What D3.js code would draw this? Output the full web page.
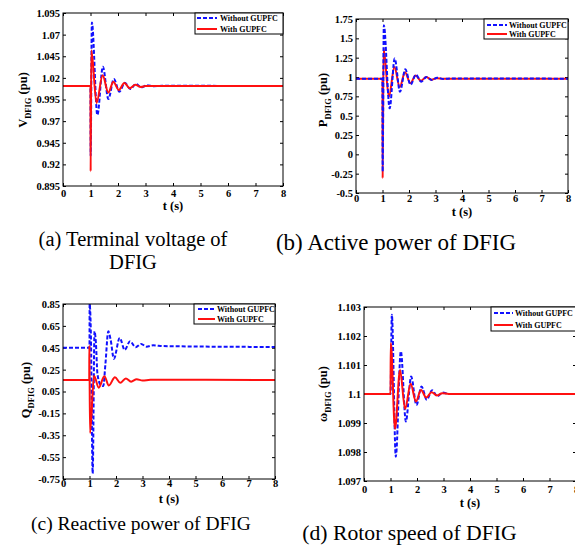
<!DOCTYPE html>
<html><head><meta charset="utf-8">
<script src="https://cdn.jsdelivr.net/npm/d3@7"></script>
<style>body{margin:0;background:#fff}svg{display:block}</style>
</head><body>
<svg id="c" width="575" height="557"></svg>
<script>
// ---------- data ----------
const timeTicks = [0,1,2,3,4,5,6,7,8];
const vTicks = [0.895,0.92,0.945,0.97,0.995,1.02,1.045,1.07,1.095];
const pTicks = [-0.5,-0.25,0,0.25,0.5,0.75,1,1.25,1.5,1.75];
const qTicks = [-0.75,-0.55,-0.35,-0.15,0.05,0.25,0.45,0.65,0.85];
const wTicks = [1.097,1.098,1.099,1.1,1.101,1.102,1.103];
const seriesNames = ["Without GUPFC","With GUPFC"];
const captions = ["(a) Terminal voltage of|DFIG","(b) Active power of DFIG","(c) Reactive power of DFIG","(d) Rotor speed of DFIG"];

// (a) terminal voltage [t, pu]
const vWithout = [[0,1.0106],[1.0,1.0106],[1.005,0.93],[1.05,1.084],[1.25,0.977],[1.45,1.033],[1.65,0.9956],[1.85,1.0187],[2.05,1.004],[2.25,1.0144],[2.45,1.007],[2.65,1.013],[2.85,1.009],[3.05,1.0115],[3.3,1.0103],[3.6,1.0108],[8,1.0106]];
const vWith = [[0,1.0106],[1.0,1.0106],[1.005,0.912],[1.03,1.052],[1.22,0.991],[1.44,1.023],[1.65,1.003],[1.83,1.0156],[2.03,1.006],[2.23,1.014],[2.43,1.008],[2.63,1.012],[2.83,1.0095],[3.0,1.0106],[8,1.0106]];
// (b) active power
const pWithout = [[0,0.978],[1.0,0.978],[1.005,-0.225],[1.05,1.67],[1.27,0.595],[1.46,1.24],[1.66,0.81],[1.86,1.1],[2.06,0.9],[2.26,1.03],[2.46,0.94],[2.66,1.0],[2.86,0.96],[3.06,0.99],[3.3,0.975],[3.6,0.982],[8,0.978]];
const pWith = [[0,0.978],[1.0,0.978],[1.005,-0.31],[1.04,1.37],[1.24,0.745],[1.45,1.13],[1.65,0.87],[1.85,1.06],[2.05,0.92],[2.25,1.02],[2.45,0.95],[2.65,1.0],[2.85,0.965],[3.05,0.985],[3.3,0.978],[8,0.978]];
// (c) reactive power
const qWithout = [[0,0.45],[1.0,0.45],[1.005,0.85],[1.05,0.6],[1.12,-0.7],[1.19,0.6],[1.24,0.5],[1.3,0.21],[1.42,0.11],[1.52,0.1],[1.6,0.3],[1.71,0.6],[1.8,0.52],[1.92,0.35],[2.14,0.54],[2.33,0.43],[2.53,0.51],[2.74,0.455],[2.95,0.485],[3.15,0.46],[3.4,0.472],[3.8,0.465],[8,0.457]];
const qWith = [[0,0.155],[0.99,0.155],[0.995,0.47],[1.02,-0.33],[1.17,0.195],[1.35,0.085],[1.56,0.19],[1.73,0.105],[1.96,0.18],[2.16,0.13],[2.37,0.17],[2.57,0.14],[2.78,0.162],[3.0,0.15],[3.3,0.157],[8,0.155]];
// (d) rotor speed
const wWithout = [[0,1.1],[1.0,1.1],[1.05,1.10273],[1.2,1.09784],[1.39,1.10147],[1.58,1.09905],[1.78,1.1006],[1.98,1.09962],[2.17,1.10026],[2.37,1.0998],[2.57,1.10013],[2.77,1.09992],[2.97,1.10005],[3.2,1.1],[8,1.1]];
const wWith = [[0,1.1],[1.0,1.1],[1.01,1.10176],[1.17,1.0988],[1.36,1.10083],[1.55,1.09948],[1.76,1.10035],[1.96,1.09974],[2.15,1.10014],[2.35,1.09988],[2.55,1.10006],[2.75,1.09995],[2.95,1.10003],[3.2,1.1],[8,1.1]];

// ---------- layout ----------
const svg = d3.select("#c");
const SERIF = "'Liberation Serif','Times New Roman',serif";
const panels = [
  {id:"a", x0:63, x1:283, y0:13, y1:186, dom:[0.895,1.095], ticks:vTicks, s:[vWithout,vWith], sym:"V",
   labX:27, labY:100, tickPad:4, xlabY:209.5, leg:{x0:195,x1:283,y0:13,y1:34,r:[18,29],l0:197,l1:217,t:220}, redTop:true},
  {id:"b", x0:356, x1:568, y0:19, y1:193, dom:[-0.5,1.75], ticks:pTicks, s:[pWithout,pWith], sym:"P",
   labX:327, labY:100, tickPad:2, xlabY:215.5, leg:{x0:484,x1:568,y0:19,y1:39,r:[25,34],l0:487,l1:507,t:509}, redTop:false},
  {id:"c", x0:63, x1:275, y0:304, y1:479, dom:[-0.75,0.85], ticks:qTicks, s:[qWithout,qWith], sym:"Q",
   labX:30, labY:390, tickPad:1, xlabY:502.5, leg:{x0:194,x1:275,y0:304,y1:324,r:[309,319],l0:198,l1:215,t:217}, redTop:true},
  {id:"d", x0:364, x1:576, y0:307, y1:481, dom:[1.097,1.103], ticks:wTicks, s:[wWithout,wWith], sym:"\u03C9",
   labX:327, labY:394, tickPad:5, xlabY:507, leg:{x0:491,x1:580,y0:307,y1:331,r:[313,325],l0:494,l1:513,t:515}, redTop:true}
];
const colors = ["#1010ff","#ff1010"];

panels.forEach(cfg => {
  const g = svg.append("g");
  const x = d3.scaleLinear().domain([0,8]).range([cfg.x0,cfg.x1]);
  const y = d3.scaleLinear().domain(cfg.dom).range([cfg.y1,cfg.y0]);
  const clipId = "clip"+cfg.id;
  svg.append("clipPath").attr("id",clipId).append("rect")
    .attr("x",cfg.x0).attr("y",cfg.y0).attr("width",cfg.x1-cfg.x0).attr("height",cfg.y1-cfg.y0);

  const styleAxis = a => { a.select(".domain").remove();
    a.selectAll("text").attr("font-family",SERIF).attr("font-weight","bold").attr("font-size",10.5).attr("fill","#000");
    a.selectAll("line").attr("stroke","#000"); };
  g.append("g").attr("transform",`translate(0,${cfg.y1})`)
    .call(d3.axisBottom(x).tickValues(timeTicks).tickSize(-3).tickPadding(cfg.tickPad).tickFormat(d3.format("d"))).call(styleAxis);
  g.append("g").attr("transform",`translate(0,${cfg.y0})`)
    .call(d3.axisTop(x).tickValues(timeTicks).tickSize(-3).tickFormat("")).call(styleAxis);
  g.append("g").attr("transform",`translate(${cfg.x0},0)`)
    .call(d3.axisLeft(y).tickValues(cfg.ticks).tickSize(-3).tickPadding(3).tickFormat(d=>String(+d.toFixed(4)))).call(styleAxis);
  g.append("g").attr("transform",`translate(${cfg.x1},0)`)
    .call(d3.axisRight(y).tickValues(cfg.ticks).tickSize(-3).tickFormat("")).call(styleAxis);

  const line = d3.line().x(d=>x(d[0])).y(d=>y(d[1])).curve(d3.curveMonotoneX);
  const order = cfg.redTop ? [0,1] : [1,0];
  const lg = g.append("g").attr("clip-path",`url(#${clipId})`);
  order.forEach(i => {
    lg.append("path").datum(cfg.s[i]).attr("d",line).attr("fill","none")
      .attr("stroke",colors[i]).attr("stroke-width",2)
      .attr("stroke-dasharray",i===0?"4,2":null).attr("stroke-linejoin","round");
  });

  g.append("rect").attr("x",cfg.x0).attr("y",cfg.y0).attr("width",cfg.x1-cfg.x0).attr("height",cfg.y1-cfg.y0)
    .attr("fill","none").attr("stroke","#000").attr("stroke-width",1);

  // legend
  const L = cfg.leg;
  g.append("rect").attr("x",L.x0).attr("y",L.y0).attr("width",L.x1-L.x0).attr("height",L.y1-L.y0)
    .attr("fill","#fff").attr("stroke","#000").attr("stroke-width",1);
  seriesNames.forEach((n,i) => {
    g.append("line").attr("x1",L.l0).attr("x2",L.l1).attr("y1",L.r[i]).attr("y2",L.r[i])
      .attr("stroke",colors[i]).attr("stroke-width",2).attr("stroke-dasharray",i===0?"4,2":null);
    g.append("text").attr("x",L.t).attr("y",L.r[i]).attr("dy","0.35em").text(n)
      .attr("font-family",SERIF).attr("font-weight","bold").attr("font-size",8);
  });

  // axis labels
  g.append("text").attr("x",(cfg.x0+cfg.x1)/2).attr("y",cfg.xlabY).attr("text-anchor","middle")
    .attr("font-family",SERIF).attr("font-weight","bold").attr("font-size",12.5).text("t (s)");
  const yl = g.append("text").attr("transform",`translate(${cfg.labX},${cfg.labY}) rotate(-90)`)
    .attr("text-anchor","middle").attr("font-family",SERIF).attr("font-weight","bold").attr("font-size",12.5);
  yl.append("tspan").text(cfg.sym);
  yl.append("tspan").attr("font-size",8.5).attr("dy",4).text("DFIG");
  yl.append("tspan").attr("dy",-4).text(" (pu)");
});

// captions
const capCfg = [
  {x:133, y:[245.5,268.5], size:20.5},
  {x:396, y:[249.5], size:23},
  {x:141, y:[529.5], size:19.5},
  {x:409.5, y:[539.5], size:21.7}
];
captions.forEach((c,i) => {
  c.split("|").forEach((ln,j) => {
    svg.append("text").attr("x",capCfg[i].x).attr("y",capCfg[i].y[j]).attr("text-anchor","middle")
      .attr("font-family",SERIF).attr("font-size",capCfg[i].size).text(ln);
  });
});
</script>
</body></html>
